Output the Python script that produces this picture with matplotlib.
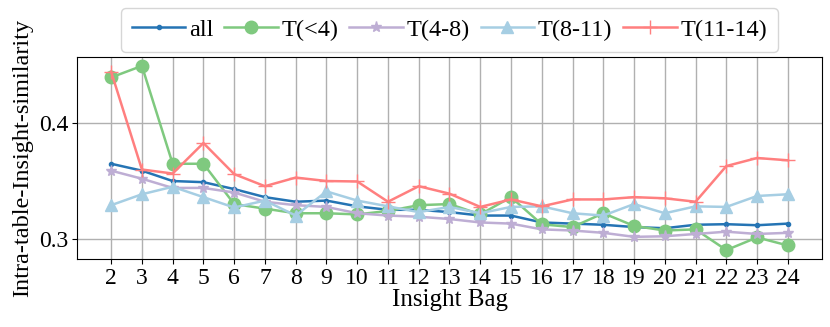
import matplotlib
matplotlib.use("Agg")
import matplotlib.pyplot as plt
from matplotlib.ticker import MultipleLocator

plt.rcParams['font.family'] = ['Liberation Serif', 'DejaVu Serif']
plt.rcParams['mathtext.fontset'] = 'stix'

bags = list(range(2, 25))
series_labels = ["all", "T(<4)", "T(4-8)", "T(8-11)", "T(11-14)"]
all_vals = [0.365, 0.359, 0.350, 0.349, 0.343, 0.336, 0.332, 0.333, 0.328, 0.325, 0.325,
            0.323, 0.320, 0.320, 0.314, 0.313, 0.312, 0.310, 0.309, 0.312, 0.3125, 0.3116, 0.313]
t_lt4 = [0.440, 0.450, 0.365, 0.365, 0.330, 0.326, 0.322, 0.322, 0.321, 0.324, 0.329,
         0.330, 0.321, 0.336, 0.3124, 0.310, 0.322, 0.311, 0.307, 0.308, 0.290, 0.301, 0.294]
t_4_8 = [0.359, 0.352, 0.344, 0.344, 0.340, 0.332, 0.329, 0.3275, 0.322, 0.320, 0.319,
         0.317, 0.314, 0.313, 0.308, 0.307, 0.305, 0.3015, 0.302, 0.304, 0.306, 0.304, 0.305]
t_8_11 = [0.329, 0.3385, 0.345, 0.336, 0.327, 0.333, 0.320, 0.341, 0.333, 0.328, 0.323,
          0.3275, 0.322, 0.3275, 0.328, 0.322, 0.320, 0.330, 0.322, 0.328, 0.3275, 0.337, 0.3385]
t_11_14 = [0.445, 0.360, 0.3565, 0.383, 0.356, 0.3455, 0.353, 0.350, 0.3496, 0.332, 0.3455,
           0.339, 0.3275, 0.334, 0.328, 0.334, 0.334, 0.336, 0.335, 0.332, 0.363, 0.370, 0.368]

series = [all_vals, t_lt4, t_4_8, t_8_11, t_11_14]
colors = ['#2574b4', '#7fc97f', '#beaed4', '#a6cee3', '#ff7f7f']
markers = ['.', 'o', '*', '^', '+']
msizes = [6, 9, 8, 9, 10]

fig = plt.figure(figsize=(8.3, 3.27), dpi=100)
ax = fig.add_axes([77.3/830, 1-259.3/327, (821.7-77.3)/830, (259.3-56.7)/327])

for vals, lab, c, m, ms in zip(series, series_labels, colors, markers, msizes):
    ax.plot(bags, vals, color=c, marker=m, markersize=ms, linewidth=1.8, label=lab)

ax.set_xticks(bags)
ax.yaxis.set_major_locator(MultipleLocator(0.1))
ax.grid(True, color='#b0b0b0', linewidth=1.0)
ax.set_axisbelow(True)
ax.tick_params(labelsize=17, pad=3)
ax.set_xlabel("Insight Bag", fontsize=18, labelpad=0)
ax.set_ylabel("Intra-table-Insight-similarity", fontsize=17.5, labelpad=4)

ax.legend(loc='lower center', bbox_to_anchor=(0.5, 1.025), ncol=5, fontsize=17.5,
          frameon=True, handlelength=2.2, columnspacing=0.45, handletextpad=0.15,
          borderaxespad=0.0, borderpad=0.45)

fig.savefig("out.png", dpi=100)
